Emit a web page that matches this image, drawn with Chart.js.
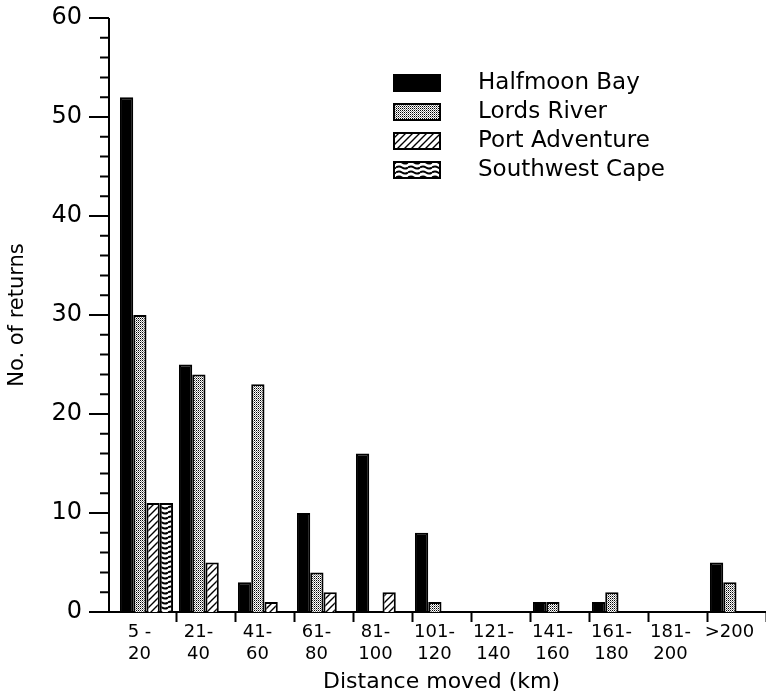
<!DOCTYPE html>
<html>
<head>
<meta charset="utf-8">
<script src="https://cdn.jsdelivr.net/npm/chart.js@4.4.1/dist/chart.umd.min.js"></script>
<style>
  html, body { margin: 0; padding: 0; background: #fff; }
  #wrap { width: 766px; height: 696px; }
</style>
</head>
<body>
<div id="wrap"><canvas id="chart" width="766" height="696"></canvas></div>
<script>
var distances = [['5 -', '20'], ['21-', '40'], ['41-', '60'], ['61-', '80'], ['81-', '100'],
                 ['101-', '120'], ['121-', '140'], ['141-', '160'], ['161-', '180'], ['181-', '200'], ['>200', '']];
var halfmoonBay   = [52, 25, 3, 10, 16, 8, 0, 1, 1, 0, 5];
var lordsRiver    = [30, 24, 23, 4, 0, 1, 0, 1, 2, 0, 3];
var portAdventure = [11, 5, 1, 2, 2, 0, 0, 0, 0, 0, 0];
var southwestCape = [11, 0, 0, 0, 0, 0, 0, 0, 0, 0, 0];
var seriesNames = ['Halfmoon Bay', 'Lords River', 'Port Adventure', 'Southwest Cape'];
var yMajor = [0, 10, 20, 30, 40, 50, 60];
var yMinor = [2, 4, 6, 8, 12, 14, 16, 18, 22, 24, 26, 28, 32, 34, 36, 38, 42, 44, 46, 48, 52, 54, 56, 58];

var FONT = "'DejaVu Sans', sans-serif";

function tile(w, h, draw) {
  var c = document.createElement('canvas');
  c.width = w; c.height = h;
  var g = c.getContext('2d');
  g.fillStyle = '#fff';
  g.fillRect(0, 0, w, h);
  draw(g);
  return g.createPattern(c, 'repeat');
}

var dots = tile(2, 2, function(g) {
  g.fillStyle = '#000';
  g.fillRect(0, 0, 1, 1);
  g.fillStyle = '#888';
  g.fillRect(1, 1, 1, 1);
});
var hatch = tile(7, 7, function(g) {
  g.strokeStyle = '#000';
  g.lineWidth = 1.4;
  g.beginPath();
  g.moveTo(-1, 8); g.lineTo(8, -1);
  g.moveTo(-1, 1); g.lineTo(1, -1);
  g.moveTo(6, 8); g.lineTo(8, 6);
  g.stroke();
});
var waves = tile(12, 5, function(g) {
  g.strokeStyle = '#000';
  g.lineWidth = 2;
  g.beginPath();
  g.moveTo(0, 2.5);
  g.quadraticCurveTo(3, 0.5, 6, 2.5);
  g.quadraticCurveTo(9, 4.5, 12, 2.5);
  g.stroke();
});

// y axis line, major/minor ticks, set a little left of the first bar group
var axisPlugin = {
  id: 'axisPlugin',
  afterDraw: function(chart) {
    var ctx = chart.ctx, y = chart.scales.y, area = chart.chartArea;
    var x0 = area.left - 8;
    ctx.save();
    ctx.strokeStyle = '#000';
    ctx.lineWidth = 2;
    ctx.beginPath();
    ctx.moveTo(x0, y.getPixelForValue(60));
    ctx.lineTo(x0, y.getPixelForValue(0) + 1);
    ctx.moveTo(x0, area.bottom);
    ctx.lineTo(area.left, area.bottom);
    yMajor.forEach(function(v) {
      var py = y.getPixelForValue(v);
      ctx.moveTo(x0 - 20, py); ctx.lineTo(x0, py);
    });
    yMinor.forEach(function(v) {
      var py = y.getPixelForValue(v);
      ctx.moveTo(x0 - 9, py); ctx.lineTo(x0, py);
    });
    ctx.stroke();
    ctx.restore();
  }
};

var legendPlugin = {
  id: 'boxLegend',
  afterDraw: function(chart) {
    var ctx = chart.ctx;
    ctx.save();
    ctx.font = '23px ' + FONT;
    ctx.textBaseline = 'middle';
    chart.data.datasets.forEach(function(ds, i) {
      var cy = 83 + i * 29;
      ctx.fillStyle = ds.backgroundColor;
      ctx.fillRect(394, cy - 8, 46, 16);
      ctx.strokeStyle = '#000';
      ctx.lineWidth = 2;
      ctx.strokeRect(394, cy - 8, 46, 16);
      ctx.fillStyle = '#000';
      ctx.fillText(ds.label, 478, cy);
    });
    ctx.restore();
  }
};

function series(i, data, fill) {
  return {
    label: seriesNames[i],
    data: data,
    backgroundColor: fill,
    borderColor: '#000',
    borderWidth: 2,
    categoryPercentage: 0.9,
    barPercentage: 1.0
  };
}

new Chart(document.getElementById('chart'), {
  type: 'bar',
  data: {
    labels: distances,
    datasets: [
      series(0, halfmoonBay, '#000'),
      series(1, lordsRiver, dots),
      series(2, portAdventure, hatch),
      series(3, southwestCape, waves)
    ]
  },
  options: {
    responsive: false,
    animation: false,
    layout: { padding: { top: 18, right: 0, left: 0, bottom: 0 } },
    plugins: { legend: { display: false }, tooltip: { enabled: false } },
    scales: {
      x: {
        grid: {
          drawOnChartArea: false,
          tickLength: 10,
          tickWidth: 2,
          tickColor: function(c) { return c.index === 0 ? 'rgba(0,0,0,0)' : '#000'; }
        },
        border: { color: '#000', width: 2 },
        ticks: {
          color: '#000',
          font: { family: FONT, size: 18, lineHeight: 1.2 },
          padding: 0,
          maxRotation: 0,
          autoSkip: false,
          labelOffset: -7
        },
        title: {
          display: true,
          text: 'Distance moved (km)',
          color: '#000',
          font: { family: FONT, size: 22 },
          padding: { top: 0, bottom: 1 }
        },
        afterFit: function(s) { s.height = 84; s.paddingLeft = 0; s.paddingRight = 0; }
      },
      y: {
        min: 0,
        max: 60,
        grid: { display: false, drawTicks: false },
        border: { display: false },
        ticks: {
          stepSize: 10,
          color: '#000',
          font: { family: FONT, size: 24 },
          padding: 35
        },
        title: {
          display: true,
          text: 'No. of returns',
          color: '#000',
          font: { family: FONT, size: 21 },
          padding: { top: 5, bottom: 0 }
        },
        afterFit: function(s) { s.width = 117; s.paddingTop = 0; s.paddingBottom = 0; }
      }
    }
  },
  plugins: [axisPlugin, legendPlugin]
});
</script>
</body>
</html>
